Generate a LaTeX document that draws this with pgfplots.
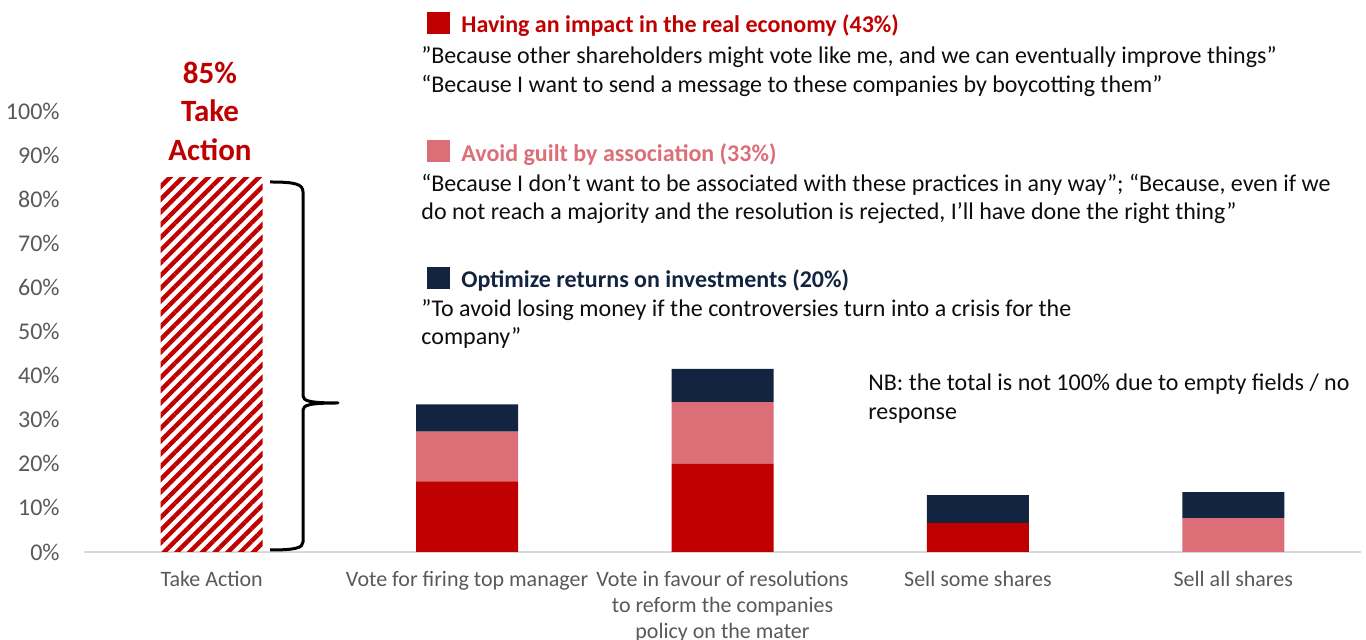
\documentclass[border=0pt]{standalone}
\usepackage{fontspec}
\setmainfont{Carlito}
\usepackage{pgfplots}
\pgfplotsset{compat=1.18}
\usetikzlibrary{patterns.meta}
\definecolor{cred}{HTML}{C00000}
\definecolor{cpink}{HTML}{DC6E78}
\definecolor{cnavy}{HTML}{12243F}
\definecolor{cgray}{HTML}{595959}
\definecolor{cline}{HTML}{D9D9D9}
\definecolor{ctext}{HTML}{0D0D0D}
\begin{document}
\begin{tikzpicture}
\useasboundingbox (0,0) rectangle (683pt,320pt);
\begin{axis}[
  at={(42pt,44pt)}, anchor=south west, scale only axis,
  width=638.5pt, height=220.5pt,
  xmin=-0.5, xmax=4.5, ymin=0, ymax=100,
  ybar stacked, bar width=51pt,
  axis lines=left, axis line style={-},
  y axis line style={draw=none},
  x axis line style={draw=cline, line width=1pt},
  ytick={0,10,...,100},
  yticklabel={\pgfmathprintnumber{\tick}\%},
  xtick={0,1,2,3,4},
  xticklabels={Take Action, Vote for firing top manager, {Vote in favour of resolutions\\to reform the companies\\policy on the mater}, Sell some shares, Sell all shares},
  major tick length=0pt,
  tick label style={text=cgray, inner sep=0pt},
  yticklabel style={font=\fontsize{12}{13}\selectfont, anchor=east, xshift=-12pt},
  xticklabel style={font=\fontsize{11}{13}\selectfont, align=center, anchor=north, yshift=-9.5pt},
  /pgf/number format/assume math mode=true,
  enlargelimits=false, clip=false,
]
\addplot[draw=none, pattern={Lines[angle=45,distance=4.5pt,line width=2.2pt]}, pattern color=cred] coordinates {(0,85) (1,0) (2,0) (3,0) (4,0)};
\addplot[draw=none, fill=cred] coordinates {(0,0) (1,16) (2,20) (3,6.6) (4,0)};
\addplot[draw=none, fill=cpink] coordinates {(0,0) (1,11.3) (2,14) (3,0) (4,7.7)};
\addplot[draw=none, fill=cnavy] coordinates {(0,0) (1,6.2) (2,7.5) (3,6.3) (4,5.9)};
\end{axis}
\begin{scope}[x=0.5pt, y=-0.5pt, shift={(0pt,320pt)}]
  \draw[line width=1.5pt, line join=round] (270,182) .. controls (295,182) and (303,184) .. (303,192) -- (303,396) .. controls (303,401) and (310,403) .. (338,403) .. controls (310,403) and (303,405) .. (303,410) -- (303,542) .. controls (303,548) and (295,550) .. (270,550);
  \node[font=\fontsize{15.5}{19.25}\selectfont\bfseries, text=cred, align=center] at (210,111) {85\%\\Take\\Action};
  \fill[cred] (427,12) rectangle (450,34);
  \fill[cpink] (427,140) rectangle (450,162);
  \fill[cnavy] (427,267) rectangle (450,289);
  \begin{scope}[every node/.style={anchor=base west, inner sep=0pt, font=\fontsize{12}{14.5}\selectfont}]
    \node[text=cred, font=\fontsize{12}{14.5}\selectfont\bfseries] at (461,33) {Having an impact in the real economy (43\%)};
    \node[text=ctext] at (421,64) {”Because other shareholders might vote like me, and we can eventually improve things”};
    \node[text=ctext] at (421,93) {“Because I want to send a message to these companies by boycotting them”};
    \node[text=cpink, font=\fontsize{12}{14.5}\selectfont\bfseries] at (461,162) {Avoid guilt by association (33\%)};
    \node[text=ctext] at (421,192) {“Because I don’t want to be associated with these practices in any way”; “Because, even if we};
    \node[text=ctext] at (421,220) {do not reach a majority and the resolution is rejected, I’ll have done the right thing”};
    \node[text=cnavy, font=\fontsize{12}{14.5}\selectfont\bfseries] at (461,288) {Optimize returns on investments (20\%)};
    \node[text=ctext] at (421,317) {”To avoid losing money if the controversies turn into a crisis for the};
    \node[text=ctext] at (421,345) {company”};
    \node[text=ctext] at (868,391) {NB: the total is not 100\% due to empty fields / no};
    \node[text=ctext] at (868,420) {response};
  \end{scope}
\end{scope}
\end{tikzpicture}
\end{document}
